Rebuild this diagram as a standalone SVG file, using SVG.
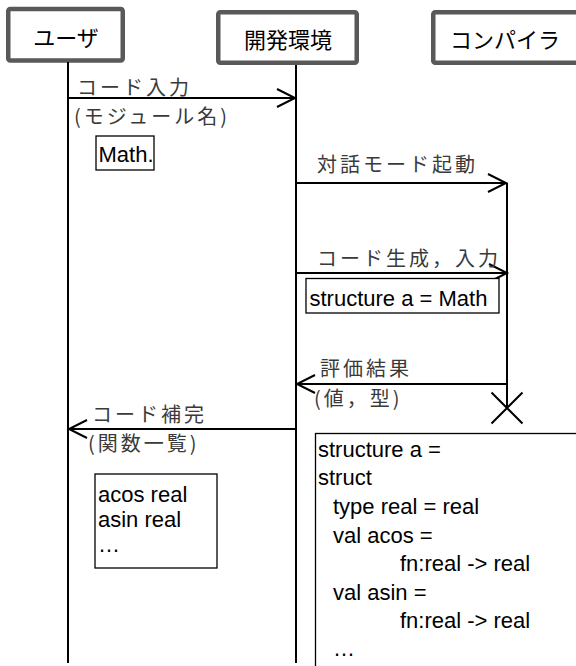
<svg xmlns="http://www.w3.org/2000/svg" width="576" height="666" viewBox="0 0 576 666">
<defs>
<style>
.actor{fill:#fff;stroke:#595959;stroke-width:4.5;}
.title{font-family:"Noto Sans CJK JP",sans-serif;font-size:22px;fill:#000;text-anchor:middle;}
.life{stroke:#000;stroke-width:2;fill:none;}
.msg{stroke:#000;stroke-width:2;fill:none;}
.lbl{font-family:"Noto Sans CJK JP",sans-serif;font-size:20px;fill:#3a3a3a;letter-spacing:3px;}
.note{fill:#fff;stroke:#000;stroke-width:1.3;}
.code{font-family:"Liberation Sans","Noto Sans CJK JP",sans-serif;font-size:22px;fill:#000;}
</style>
<marker id="open" markerWidth="24" markerHeight="20" viewBox="0 0 24 20" refX="20" refY="10" orient="auto" markerUnits="userSpaceOnUse">
<path d="M2,1 L20,10 L2,19" fill="none" stroke="#000" stroke-width="2"/>
</marker>
</defs>
<rect width="576" height="666" fill="#fff"/>

<g id="user">
<rect class="actor" x="8.25" y="9" width="114.5" height="51.5" rx="2"/>
<text class="title" x="66" y="46">ユーザ</text>
<line class="life" x1="68" y1="62" x2="68" y2="663"/>
</g>

<g id="ide">
<rect class="actor" x="218.25" y="12.25" width="138.5" height="50.5" rx="2"/>
<text class="title" x="288" y="48">開発環境</text>
<line class="life" x1="296" y1="65" x2="296" y2="663"/>
</g>

<g id="compiler">
<rect class="actor" x="433.25" y="12.25" width="150" height="50.5" rx="2"/>
<text class="title" x="505" y="48">コンパイラ</text>
<line class="life" x1="507" y1="183" x2="507" y2="408"/>
<path class="life" d="M491.5,392.5 L522.5,423.5 M522.5,392.5 L491.5,423.5"/>
</g>

<g id="connectors">
<path class="msg" d="M68,98 H295" marker-end="url(#open)"/>
<path class="msg" d="M296,183 H506" marker-end="url(#open)"/>
<path class="msg" d="M296,273 H507" marker-end="url(#open)"/>
<path class="msg" d="M507,384 H297" marker-end="url(#open)"/>
<path class="msg" d="M296,429 H69" marker-end="url(#open)"/>
</g>

<g id="labels">
<text class="lbl" x="77" y="95">コード入力</text>
<text class="lbl" x="74" y="124">(モジュール名)</text>
<text class="lbl" x="317" y="172">対話モード起動</text>
<text class="lbl" x="317" y="266">コード生成，入力</text>
<text class="lbl" x="320" y="376">評価結果</text>
<text class="lbl" x="314" y="406">(値，型)</text>
<text class="lbl" x="92" y="422">コード補完</text>
<text class="lbl" x="88" y="451">(関数一覧)</text>
</g>

<g id="note-math">
<rect class="note" x="96" y="136" width="58" height="34"/>
<text class="code" x="98.5" y="162">Math.</text>
</g>

<g id="note-structure">
<rect class="note" x="306" y="278.5" width="193" height="34.5"/>
<text class="code" x="309.5" y="306">structure a = Math</text>
</g>

<g id="note-functions">
<rect class="note" x="95" y="474" width="122" height="94"/>
<text class="code" x="98" y="502">acos real</text>
<text class="code" x="98" y="527">asin real</text>
<text class="code" x="98" y="552">…</text>
</g>

<g id="note-result">
<rect class="note" x="315.5" y="433.5" width="280" height="260"/>
<text class="code" x="318" y="457">structure a =</text>
<text class="code" x="318" y="485">struct</text>
<text class="code" x="333" y="514">type real = real</text>
<text class="code" x="333" y="543">val acos =</text>
<text class="code" x="400" y="571">fn:real -&gt; real</text>
<text class="code" x="333" y="600">val asin =</text>
<text class="code" x="400" y="628">fn:real -&gt; real</text>
<text class="code" x="333" y="656">…</text>
</g>
</svg>
